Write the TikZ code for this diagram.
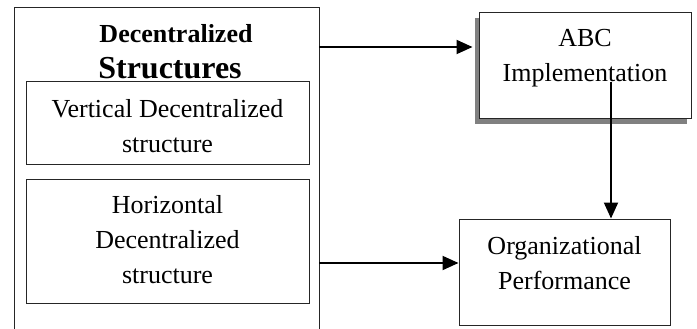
\documentclass[tikz,border=0pt]{standalone}
\usepackage{fontspec}
\setmainfont{Liberation Serif}
\usetikzlibrary{arrows.meta}
\begin{document}
\begin{tikzpicture}[x=1pt,y=-1pt,
  box/.style={draw=black!85, line width=1pt, fill=white, inner sep=0pt},
  txt/.style={align=center, font=\fontsize{26}{35}\selectfont, inner sep=0pt},
  arr/.style={line width=2pt, -{Triangle[length=16pt,width=14pt]}}]
\useasboundingbox (0,0) rectangle (697,329);
% outer container
\node[inner sep=0pt, minimum width=304, minimum height=335] (outer) at (167,175.5) {};
\draw[line width=1pt, black!85] (outer.south west) -- (outer.north west) -- (outer.north east) -- (outer.south east);
\node[anchor=base, inner sep=0pt, font=\fontsize{26}{30}\selectfont\bfseries] (title1) at (176,43) {Decentralized};
\node[anchor=base, inner sep=0pt, font=\fontsize{32}{36}\selectfont\bfseries] (title2) at (170,79) {Structures};
% inner boxes
\node[box, minimum width=283, minimum height=82] (vert) at (167.5,123) {};
\node[txt] (vertt) at (167.5,126) {Vertical Decentralized\\structure};
\node[box, minimum width=283, minimum height=124] (hor) at (167.5,241) {};
\node[txt] (hort) at (167.5,240) {Horizontal\\Decentralized\\structure};
% ABC box with shadow
\fill[gray] (475,18) rectangle (687,124);
\node[box, minimum width=212, minimum height=106] (abc) at (585,66) {};
\node[txt] (abct) at (585,58) {ABC\\Implementation};
% Org box
\node[box, minimum width=211, minimum height=106] (org) at (564.5,272) {};
\node[txt] (orgt) at (564.5,263) {Organizational\\Performance};
% connectors
\coordinate (a1) at (outer.north east |- 0,47);
\draw[arr, shorten >=6pt] (a1) -- (a1 -| abc.west);
\coordinate (a2) at (outer.north east |- 0,263);
\draw[arr] (a2) -- (a2 -| org.west);
\coordinate (v1) at (611,82);
\draw[arr] (v1) -- (v1 |- org.north);
\end{tikzpicture}
\end{document}
